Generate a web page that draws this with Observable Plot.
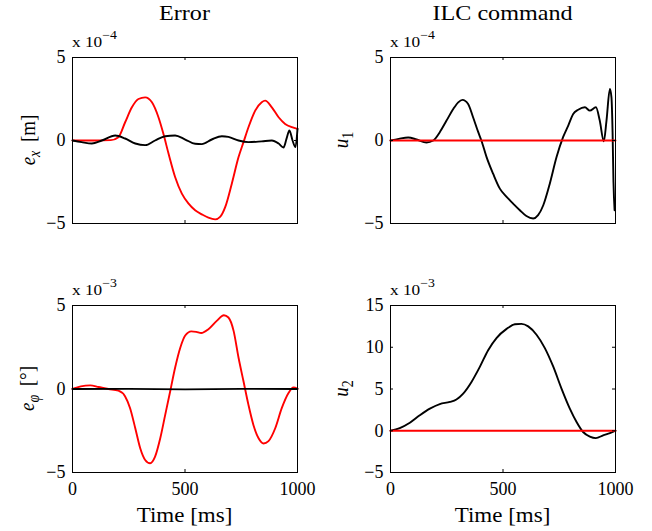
<!DOCTYPE html>
<html>
<head>
<meta charset="utf-8">
<script src="https://cdn.jsdelivr.net/npm/d3@7"></script>
<script src="https://cdn.jsdelivr.net/npm/@observablehq/plot@0.6"></script>
<style>
  html, body { margin: 0; padding: 0; background: #fff; }
  #wrap { position: relative; width: 652px; height: 531px; background: #fff; overflow: hidden; }
  #wrap svg { position: absolute; overflow: visible; }
</style>
</head>
<body>
<div id="wrap"></div>
<script>
// ---------- data (values in units of the axis multiplier) ----------
const xTicks = [0, 500, 1000];
const yTicksEx = [-5, 0, 5];
const yTicksU1 = [-5, 0, 5];
const yTicksEphi = [-5, 0, 5];
const yTicksU2 = [-5, 0, 5, 10, 15];

// e_x (x 10^-4)
const tExRed = [0, 100, 170, 204, 234, 264, 293, 323, 353, 382, 404, 427, 456, 486, 516, 545, 575, 604, 634, 656, 679, 708, 738, 760, 782, 812, 841, 856, 886, 916, 945, 975, 1000];
const exRed  = [0, 0, 0.02, 0.2, 1.1, 2.0, 2.5, 2.6, 2.3, 1.4, 0.4, -0.8, -2.2, -3.2, -3.8, -4.2, -4.45, -4.65, -4.75, -4.6, -4.0, -2.6, -1.0, -0.1, 0.8, 1.8, 2.3, 2.4, 2.0, 1.4, 1.0, 0.8, 0.7];
const tExBlack = [0, 41, 86, 130, 190, 234, 279, 323, 367, 412, 456, 501, 545, 575, 619, 664, 693, 738, 782, 841, 886, 916, 938, 951, 964, 978, 991, 1000];
const exBlack  = [0, -0.1, -0.18, 0, 0.3, 0.12, -0.18, -0.28, 0, 0.26, 0.3, 0.06, -0.2, -0.22, 0.06, 0.26, 0.22, 0, -0.1, -0.05, 0, -0.18, -0.42, 0.1, 0.6, 0, -0.4, 0.7];

// u_1 (x 10^-4)
const tU1Black = [0, 37, 79, 116, 160, 190, 219, 249, 279, 301, 320, 345, 367, 390, 404, 427, 456, 486, 516, 545, 575, 604, 634, 656, 679, 708, 738, 767, 790, 812, 834, 864, 886, 913, 930, 948, 960, 975, 982, 987, 991, 996];
const u1Black  = [0, 0.1, 0.18, 0.06, -0.12, 0, 0.5, 1.2, 1.9, 2.3, 2.45, 2.2, 1.4, 0.5, 0, -1.0, -2.0, -2.9, -3.4, -3.8, -4.2, -4.55, -4.7, -4.5, -3.9, -2.6, -1.0, 0.2, 0.9, 1.6, 1.85, 2.0, 1.8, 2.0, 1.2, -0.05, 1.2, 3.1, 2.6, 0.5, -2.5, -4.2];
const tU1Red = [0, 1000];
const u1Red  = [0, 0];

// e_phi (x 10^-3)
const tEphiRed = [0, 37, 79, 116, 160, 204, 234, 256, 279, 301, 323, 345, 367, 390, 412, 434, 456, 479, 501, 528, 550, 572, 604, 641, 673, 693, 716, 738, 760, 782, 804, 827, 849, 871, 901, 930, 960, 982, 1000];
const ephiRed  = [0, 0.16, 0.22, 0.12, 0, -0.1, -0.45, -1.15, -2.35, -3.55, -4.25, -4.45, -4.05, -2.95, -1.55, -0.15, 1.27, 2.47, 3.2, 3.45, 3.42, 3.35, 3.58, 4.08, 4.42, 4.28, 3.48, 1.87, 0.46, -0.95, -2.15, -2.95, -3.26, -3.12, -2.35, -1.15, -0.24, 0.1, 0.02];
const tEphiBlack = [0, 250, 500, 750, 1000];
const ephiBlack  = [0, 0.01, -0.02, 0.01, 0];

// u_2 (x 10^-3)
const tU2Black = [0, 41, 86, 130, 175, 219, 264, 293, 323, 360, 397, 434, 471, 516, 553, 582, 612, 649, 686, 723, 760, 797, 827, 856, 886, 913, 945, 975, 1000];
const u2Black  = [0, 0.32, 0.96, 1.85, 2.65, 3.2, 3.45, 3.75, 4.45, 5.85, 7.65, 9.65, 11.1, 12.2, 12.75, 12.8, 12.5, 11.5, 9.9, 7.7, 5.05, 2.65, 1.05, -0.15, -0.7, -0.88, -0.55, -0.28, 0];
const tU2Red = [0, 1000];
const u2Red  = [0, 0];

// ---------- rendering ----------
const FONT = "'Liberation Serif', 'Times New Roman', serif";
const SX = 1.15;
const fmt = d => d < 0 ? "\u2212" + (-d) : String(d);
const rows = (t, v) => t.map((d, i) => ({t: d, v: v[i]}));

function makePanel(cfg) {
  const pw = cfg.width - cfg.ml - cfg.mr;
  const ph = cfg.height - cfg.mt - cfg.mb;
  const marks = [];
  for (const s of cfg.series) {
    marks.push(Plot.line(rows(s.t, s.v), {x: "t", y: "v", stroke: s.color, strokeWidth: 1.9, curve: "monotone-x"}));
  }
  marks.push(Plot.frame({stroke: "black", strokeWidth: 1}));
  marks.push(Plot.tickX(xTicks, {x: d => d, stroke: "black", insetBottom: ph - 3}));
  marks.push(Plot.tickX(xTicks, {x: d => d, stroke: "black", insetTop: ph - 3}));
  marks.push(Plot.tickY(cfg.yTicks, {y: d => d, stroke: "black", insetRight: pw - 3}));
  marks.push(Plot.tickY(cfg.yTicks, {y: d => d, stroke: "black", insetLeft: pw - 3}));
  marks.push(Plot.axisY(cfg.yTicks, {tickSize: 0, tickPadding: 7, fontSize: 18, tickFormat: fmt, label: null}));
  if (cfg.xAxis) marks.push(Plot.axisX(xTicks, {tickSize: 0, tickPadding: 10, fontSize: 18, tickFormat: fmt, label: null}));

  const svg = Plot.plot({
    width: cfg.width, height: cfg.height,
    marginTop: cfg.mt, marginBottom: cfg.mb, marginLeft: cfg.ml, marginRight: cfg.mr,
    x: {domain: [0, 1000], axis: null},
    y: {domain: cfg.yDomain, axis: null},
    style: {fontFamily: FONT, background: "transparent", color: "black", overflow: "visible"},
    marks
  });

  const g = d3.select(svg).append("g").attr("font-family", FONT).attr("fill", "black");
  if (cfg.title) {
    g.append("text")
      .attr("transform", `translate(${cfg.ml + pw / 2},20) scale(${SX},1)`)
      .attr("text-anchor", "middle").attr("font-size", 21).text(cfg.title);
  }
  const ex = g.append("text")
    .attr("transform", `translate(${cfg.ml},${cfg.mt - 10}) scale(${SX},1)`)
    .attr("text-anchor", "start")
    .attr("font-size", 15);
  ex.append("tspan").text("x 10");
  ex.append("tspan").attr("font-size", 12).attr("dy", -8).text(cfg.exp);

  const yl = g.append("text")
    .attr("transform", `translate(${cfg.ylx},${cfg.mt + ph / 2}) rotate(-90) scale(1,${SX})`)
    .attr("text-anchor", "middle").attr("font-size", 19);
  yl.append("tspan").attr("font-style", "italic").text(cfg.ysym);
  yl.append("tspan").attr("font-style", cfg.subItalic ? "italic" : "normal")
    .attr("font-size", 14).attr("dy", 4).text(cfg.ysub);
  if (cfg.yunit) yl.append("tspan").attr("dy", -4).text("\u00A0\u2009" + cfg.yunit);

  if (cfg.xlabel) {
    g.append("text")
      .attr("transform", `translate(${cfg.ml + pw / 2},${cfg.height - 9}) scale(${SX},1)`)
      .attr("text-anchor", "middle").attr("font-size", 20).text(cfg.xlabel);
  }

  svg.style.left = cfg.left + "px";
  svg.style.top = cfg.top + "px";
  document.getElementById("wrap").appendChild(svg);
}

const RED = "#ff0000", BLACK = "#000000";

makePanel({
  left: 0, top: 0, width: 326, height: 260, mt: 57, mb: 37, ml: 72, mr: 29,
  yDomain: [-5, 5], yTicks: yTicksEx, xAxis: false,
  series: [{t: tExRed, v: exRed, color: RED}, {t: tExBlack, v: exBlack, color: BLACK}],
  title: "Error", exp: "\u22124", ylx: 35, ysym: "e", ysub: "x", subItalic: true, yunit: "[m]"
});
makePanel({
  left: 326, top: 0, width: 326, height: 260, mt: 57, mb: 37, ml: 64, mr: 37,
  yDomain: [-5, 5], yTicks: yTicksU1, xAxis: false,
  series: [{t: tU1Black, v: u1Black, color: BLACK}, {t: tU1Red, v: u1Red, color: RED}],
  title: "ILC command", exp: "\u22124", ylx: 22, ysym: "u", ysub: "1", subItalic: false
});
makePanel({
  left: 0, top: 260, width: 326, height: 271, mt: 45, mb: 59, ml: 72, mr: 29,
  yDomain: [-5, 5], yTicks: yTicksEphi, xAxis: true,
  series: [{t: tEphiRed, v: ephiRed, color: RED}, {t: tEphiBlack, v: ephiBlack, color: BLACK}],
  exp: "\u22123", ylx: 34, ysym: "e", ysub: "\u03C6", subItalic: true, yunit: "[\u00B0]",
  xlabel: "Time [ms]"
});
makePanel({
  left: 326, top: 260, width: 326, height: 271, mt: 45, mb: 59, ml: 64, mr: 37,
  yDomain: [-5, 15], yTicks: yTicksU2, xAxis: true,
  series: [{t: tU2Black, v: u2Black, color: BLACK}, {t: tU2Red, v: u2Red, color: RED}],
  exp: "\u22123", ylx: 22, ysym: "u", ysub: "2", subItalic: false,
  xlabel: "Time [ms]"
});
</script>
</body>
</html>
